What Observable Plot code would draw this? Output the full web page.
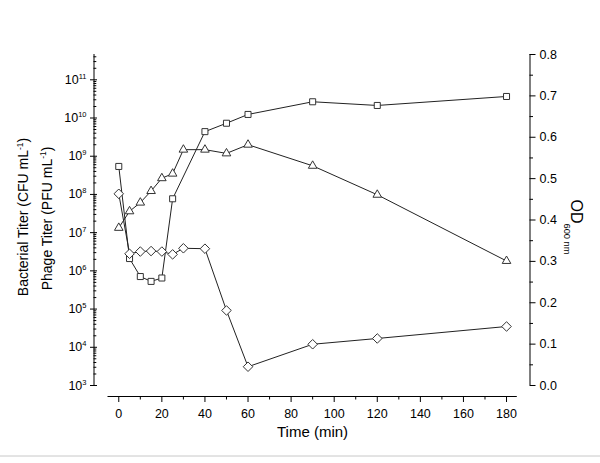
<!DOCTYPE html>
<html><head><meta charset="utf-8">
<script src="https://cdn.jsdelivr.net/npm/d3@7"></script>
<script src="https://cdn.jsdelivr.net/npm/@observablehq/plot@0.6"></script>
<style>body{margin:0;background:#fff}#chart svg{display:block}</style>
</head><body><div id="chart"></div>
<script>
// ---- data ----
const timeSquares   = [0, 5, 10, 15, 20, 25, 40, 50, 60, 90, 120, 180];
const titerSquares  = [5.4e8, 2.1e6, 7.1e5, 5.3e5, 6.5e5, 7.7e7, 4.4e9, 7.3e9, 1.24e10, 2.66e10, 2.13e10, 3.66e10];
const timeDiamonds  = [0, 5, 10, 15, 20, 25, 30, 40, 50, 60, 90, 120, 180];
const titerDiamonds = [1.04e8, 2.8e6, 3.2e6, 3.3e6, 3.2e6, 2.7e6, 3.9e6, 3.8e6, 9.2e4, 3.1e3, 1.2e4, 1.7e4, 3.5e4];
const timeTriangles = [0, 5, 10, 15, 20, 25, 30, 40, 50, 60, 90, 120, 180];
const odTriangles   = [0.381, 0.421, 0.442, 0.470, 0.501, 0.512, 0.570, 0.570, 0.561, 0.582, 0.531, 0.461, 0.301];

const xTicks = [0, 20, 40, 60, 80, 100, 120, 140, 160, 180];
const xMinorTicks = [10, 30, 50, 70, 90, 110, 130, 150, 170];
const yExponents = [3, 4, 5, 6, 7, 8, 9, 10, 11];
const odTicks = [0, 0.1, 0.2, 0.3, 0.4, 0.5, 0.6, 0.7, 0.8];
const odMinorTicks = [0.05, 0.15, 0.25, 0.35, 0.45, 0.55, 0.65, 0.75];
const odLabels = ["0.0", "0.1", "0.2", "0.3", "0.4", "0.5", "0.6", "0.7", "0.8"];
const xTitle = "Time (min)";
const yTitle1 = "Bacterial Titer (CFU mL^{-1})";
const yTitle2 = "Phage Titer (PFU mL^{-1})";
const y2Title = "OD_{600 nm}";

// ---- layout ----
const W = 600, H = 463, ML = 107.5, MR = 83.2, MT = 54, MB = 78;
const XD = [-5, 185];
const LOGTOP = 11.662;
const YD = [1e3, Math.pow(10, LOGTOP)];
const OD_MAX = 0.8;
const odToY = od => Math.pow(10, 3 + od / OD_MAX * (LOGTOP - 3));

const sx = Plot.scale({x: {domain: XD, range: [ML, W - MR]}});
const sy = Plot.scale({y: {type: "log", domain: YD, range: [H - MB, MT]}});
const X = p => sx.invert(p);
const Y = p => sy.invert(p);

const squares = timeSquares.map((t, i) => ({t, v: titerSquares[i]}));
const diamonds = timeDiamonds.map((t, i) => ({t, v: titerDiamonds[i]}));
const triangles = timeTriangles.map((t, i) => ({t, v: odToY(odTriangles[i])}));

const yMajor = yExponents.map(e => Math.pow(10, e));
const yMinor = [];
for (const e of yExponents) for (let m = 2; m <= 9; m++) { const v = m * Math.pow(10, e); if (v <= YD[1]) yMinor.push(v); }

const AX = "#000", LINE = "#222", MK = "#333";
const xAxisY = 396, leftAxisX = 93.5, rightAxisX = 529.5;

const chart = Plot.plot({
  width: W, height: H,
  marginLeft: ML, marginRight: MR, marginTop: MT, marginBottom: MB,
  x: {domain: XD, axis: null},
  y: {type: "log", domain: YD, axis: null},
  style: {fontFamily: "'Liberation Sans', Arial, sans-serif", background: "#fff", color: "#000"},
  marks: [
    // axis lines
    Plot.ruleX([X(leftAxisX)], {y1: YD[0], y2: YD[1], stroke: AX}),
    Plot.ruleX([X(rightAxisX)], {y1: YD[0], y2: YD[1], stroke: AX}),
    Plot.ruleY([Y(xAxisY)], {x1: XD[0], x2: XD[1], stroke: AX}),
    // left ticks (log)
    Plot.ruleY(yMajor, {x1: X(leftAxisX - 3.5), x2: X(leftAxisX + 3.5), stroke: AX}),
    Plot.ruleY(yMinor, {x1: X(leftAxisX), x2: X(leftAxisX + 2.8), stroke: AX}),
    // right ticks (OD)
    Plot.ruleY(odTicks.map(odToY), {x1: X(rightAxisX), x2: X(rightAxisX + 6), stroke: AX}),
    Plot.ruleY(odMinorTicks.map(odToY), {x1: X(rightAxisX), x2: X(rightAxisX + 3.5), stroke: AX}),
    // bottom ticks
    Plot.ruleX(xTicks, {y1: Y(xAxisY), y2: Y(xAxisY + 6), stroke: AX}),
    Plot.ruleX(xMinorTicks, {y1: Y(xAxisY), y2: Y(xAxisY + 3.5), stroke: AX}),
    // tick labels
    Plot.text(yExponents, {x: X(86), y: e => Math.pow(10, e), text: e => `10^{${e}}`, textAnchor: "end", fontSize: 12.5, fill: AX}),
    Plot.text(odTicks, {x: X(rightAxisX + 9.5), y: odToY, text: (d, i) => odLabels[i], textAnchor: "start", fontSize: 12.5, fill: AX}),
    Plot.text(xTicks, {x: d => d, y: Y(413.5), text: d => String(d), fontSize: 12.5, fill: AX}),
    // axis titles
    Plot.text([xTitle], {x: X(312), y: Y(432), text: d => d, fontSize: 15, fill: AX}),
    Plot.text([yTitle1], {x: X(23.3), y: Y(216.5), text: d => d, rotate: -90, fontSize: 14, fill: AX}),
    Plot.text([yTitle2], {x: X(47), y: Y(218), text: d => d, rotate: -90, fontSize: 14, fill: AX}),
    Plot.text([y2Title], {x: X(575.5), y: Y(226.5), text: d => d, rotate: 90, fontSize: 16, fill: AX}),
    // bottom border line
    Plot.ruleY([Y(455.5)], {x1: X(0), x2: X(600), stroke: "#c8c8c8"}),
    // data
    Plot.line(squares, {x: "t", y: "v", stroke: LINE, strokeWidth: 1}),
    Plot.line(triangles, {x: "t", y: "v", stroke: LINE, strokeWidth: 1}),
    Plot.line(diamonds, {x: "t", y: "v", stroke: LINE, strokeWidth: 1}),
    Plot.dot(squares, {x: "t", y: "v", symbol: "square", r: 3.4, fill: "white", stroke: MK, strokeWidth: 1}),
    Plot.dot(triangles, {x: "t", y: "v", symbol: "triangle2", r: 4.1, fill: "white", stroke: MK, strokeWidth: 1}),
    Plot.dot(diamonds, {x: "t", y: "v", symbol: "diamond2", r: 4.3, fill: "white", stroke: MK, strokeWidth: 1})
  ]
});

document.getElementById("chart").appendChild(chart);

// turn ^{...} and _{...} into real superscript / subscript tspans
d3.select(chart).selectAll("text").each(function () {
  const el = this;
  const s = el.textContent;
  if (!/[\^_]\{/.test(s)) return;
  const fs = parseFloat(window.getComputedStyle(el).fontSize) || 12;
  const parts = [];
  const re = /([\^_])\{([^}]*)\}/g;
  let last = 0, m;
  while ((m = re.exec(s))) {
    if (m.index > last) parts.push({type: "n", s: s.slice(last, m.index)});
    parts.push({type: m[1] === "^" ? "sup" : "sub", s: m[2]});
    last = re.lastIndex;
  }
  if (last < s.length) parts.push({type: "n", s: s.slice(last)});
  while (el.firstChild) el.removeChild(el.firstChild);
  const sel = d3.select(el);
  let shift = 0;
  for (const p of parts) {
    const ts = sel.append("tspan").text(p.s);
    let target = 0;
    if (p.type === "sup") { target = -0.4 * fs; ts.attr("font-size", 0.6 * fs); }
    else if (p.type === "sub") { target = 0.4 * fs; ts.attr("font-size", 0.58 * fs); }
    const d = target - shift;
    if (d !== 0) ts.attr("dy", d);
    shift = target;
  }
});
</script>
</body></html>
